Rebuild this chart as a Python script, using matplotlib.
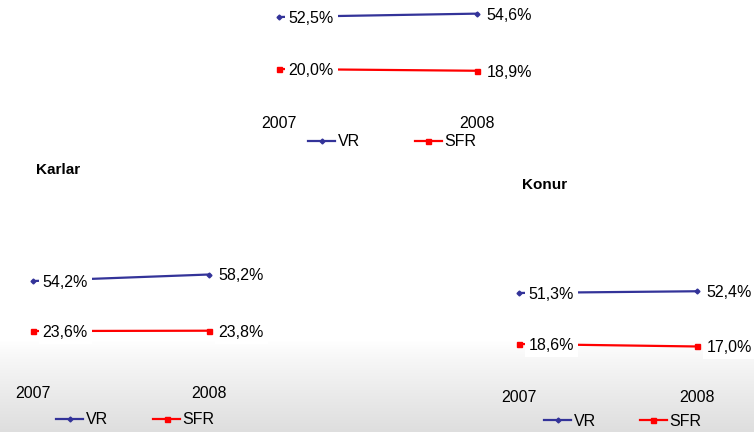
import numpy as np
import matplotlib
matplotlib.use("Agg")
import matplotlib.pyplot as plt
from matplotlib import transforms
from matplotlib.lines import Line2D

plt.rcParams['font.family'] = ['Liberation Sans', 'DejaVu Sans']

W, H = 754, 432

years = ["2007", "2008"]
series_names = ["VR", "SFR"]

# values per chart (percent)
total_vr = [52.5, 54.6]
total_sfr = [20.0, 18.9]
karlar_vr = [54.2, 58.2]
karlar_sfr = [23.6, 23.8]
konur_vr = [51.3, 52.4]
konur_sfr = [18.6, 17.0]

titles = ["", "Karlar", "Konur"]

VR_COLOR = "#333399"
SFR_COLOR = "#ff0000"
FS = 11.5

fig = plt.figure(figsize=(W / 100, H / 100), dpi=100)

# background: white fading to light grey at the bottom
bg = fig.add_axes([0, 0, 1, 1], zorder=-10)
grad = np.ones((H, 1))
rows = np.arange(H)
start = 340
grad[rows >= start, 0] = 1 - 0.13 * ((rows[rows >= start] - start) / (H - start)) ** 0.9
bg.imshow(np.dstack([grad, grad, grad]), aspect='auto', extent=[0, 1, 0, 1])
bg.axis('off')


def fx(px):
    return px / W


def fy(py):
    return 1 - py / H


def draw_chart(vr, sfr, title, x0, x1, y0, scale, year_y, legend_y, leg_dx, colsp, title_xy):
    top = y0 - 60 * scale
    ax = fig.add_axes([fx(x0), fy(y0), fx(x1 - x0), (y0 - top) / H])
    ax.set_xlim(0, 1)
    ax.set_ylim(0, 60)
    ax.axis('off')
    xs = [0, 1]
    ax.plot(xs, vr, color=VR_COLOR, lw=1.6, marker='D', ms=2.5, clip_on=False, zorder=2)
    ax.plot(xs, sfr, color=SFR_COLOR, lw=1.6, marker='s', ms=3.6, clip_on=False, zorder=2)
    for vals in (vr, sfr):
        for x, v in zip(xs, vals):
            ax.annotate(f"{v:.1f}%".replace(".", ","), (x, v), xytext=(7, -1),
                        textcoords='offset points', ha='left', va='center', fontsize=FS,
                        bbox=dict(boxstyle='square,pad=0.25', fc='white', ec='none'),
                        zorder=3, annotation_clip=False)
    tr = transforms.blended_transform_factory(ax.transData, fig.transFigure)
    for x, yr in zip(xs, years):
        ax.text(x, fy(year_y), yr, transform=tr, ha='center', va='center', fontsize=FS)
    handles = [Line2D([], [], color=VR_COLOR, lw=1.6, marker='D', ms=2.5),
               Line2D([], [], color=SFR_COLOR, lw=1.6, marker='s', ms=3.6)]
    fig.legend(handles, series_names, loc='center left',
               bbox_to_anchor=(fx(x0 + leg_dx), fy(legend_y)), ncol=2, frameon=False,
               fontsize=FS, handlelength=1.7, handletextpad=0.15, columnspacing=colsp,
               borderpad=0, borderaxespad=0)
    if title:
        fig.text(fx(title_xy[0]), fy(title_xy[1]), title, fontsize=11, fontweight='bold',
                 ha='left', va='center')


draw_chart(total_vr, total_sfr, titles[0], 279, 477, 101, 1.6, 123, 142, 29, 3.45, None)
draw_chart(karlar_vr, karlar_sfr, titles[1], 33, 209, 369.6, 1.634, 394, 420, 23, 2.85, (36, 170))
draw_chart(konur_vr, konur_sfr, titles[2], 519, 697, 373, 1.56, 398, 421, 25, 2.75, (522, 185))

fig.savefig("out.png", dpi=100)
